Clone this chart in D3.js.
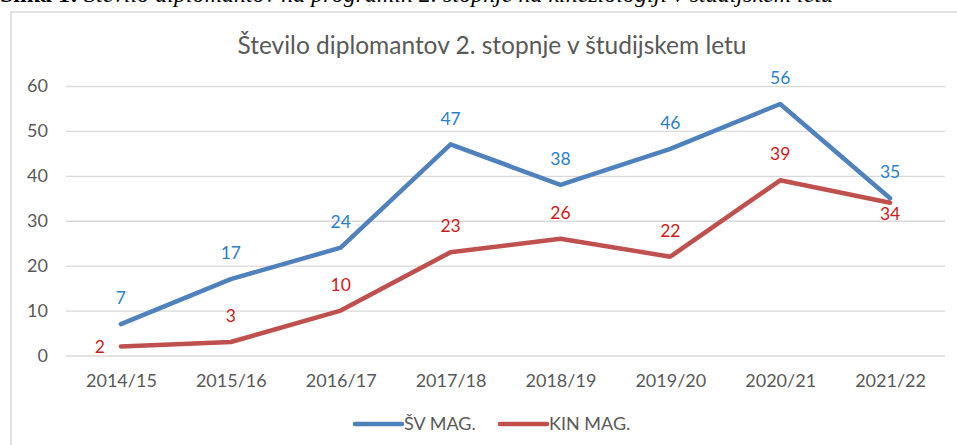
<!DOCTYPE html>
<html>
  <head>
    <meta charset="utf-8">
    <title>Število diplomantov 2. stopnje v študijskem letu</title>
    <style>
      body {
        margin: 0;
        background: #fff;
        overflow: hidden;
      }

      svg text {
        font-family: Lato, "Open Sans", sans-serif;
      }

      .grid line {
        stroke: #d9d9d9;
        stroke-width: 1.3px;
      }

      .axis text {
        fill: #595959;
        font-size: 18px;
      }
    </style>
  </head>
  <body>
    <svg width="957" height="445"></svg>
  </body>
  <script src="https://d3js.org/d3.v7.min.js"></script>
  <script>
    // data
    const years = ['2014/15', '2015/16', '2016/17', '2017/18', '2018/19', '2019/20', '2020/21', '2021/22'];
    const svMag = [7, 17, 24, 47, 38, 46, 56, 35];
    const kinMag = [2, 3, 10, 23, 26, 22, 39, 34];
    const seriesNames = ['ŠV MAG.', 'KIN MAG.'];
    const yTicks = [0, 10, 20, 30, 40, 50, 60];

    const svg = d3.select('svg');

    const x = d3.scalePoint()
      .domain(years)
      .range([66, 945])
      .padding(0.5);

    const y = d3.scaleLinear()
      .domain([0, 60])
      .range([355.5, 86]);

    // caption of the document, cut off at the top
    svg.append('text')
      .attr('x', 0)
      .attr('y', 1.5)
      .style('font-family', '"Liberation Serif", "DejaVu Serif", serif')
      .style('font-size', '24px')
      .style('fill', '#000')
      .html('<tspan font-weight="bold" font-style="normal">Slika 1:</tspan>'
        + '<tspan font-style="italic"> Število diplomantov na programih 2. stopnje na kineziologiji v študijskem letu</tspan>');

    // chart frame
    svg.append('rect')
      .attr('x', 11)
      .attr('y', 12)
      .attr('width', 980)
      .attr('height', 460)
      .style('fill', '#fff')
      .style('stroke', '#d9d9d9')
      .style('stroke-width', 1.5);

    svg.append('text')
      .attr('x', 492)
      .attr('y', 45)
      .attr('dy', '0.35em')
      .attr('text-anchor', 'middle')
      .style('font-size', '24.5px')
      .style('fill', '#595959')
      .text('Število diplomantov 2. stopnje v študijskem letu');

    const yAxis = svg.append('g')
      .attr('class', 'axis grid')
      .attr('transform', 'translate(66,0)')
      .call(d3.axisLeft(y).tickValues(yTicks).tickSize(-879).tickPadding(18));
    yAxis.select('.domain').remove();

    const xAxis = svg.append('g')
      .attr('class', 'axis')
      .attr('transform', 'translate(0,' + y(0) + ')')
      .call(d3.axisBottom(x).tickSize(0).tickPadding(19));
    xAxis.select('.domain').remove();

    const line = d3.line()
      .x((d, i) => x(years[i]))
      .y(d => y(d));

    const series = [
      {name: seriesNames[0], values: svMag, color: '#4f81bd', labelColor: '#2a7fc9'},
      {name: seriesNames[1], values: kinMag, color: '#c0504d', labelColor: '#d01818'}
    ];

    svg.append('g')
      .selectAll('path')
      .data(series)
      .join('path')
        .attr('d', d => line(d.values))
        .style('fill', 'none')
        .style('stroke', d => d.color)
        .style('stroke-width', 4.5)
        .style('stroke-linejoin', 'round')
        .style('stroke-linecap', 'round');

    // data labels
    function labelPos(s, i) {
      if (s.name === seriesNames[1] && i === 0) return 'left';
      if (s.name === seriesNames[1] && i === years.length - 1) return 'below';
      return 'above';
    }

    series.forEach(s => {
      svg.append('g')
        .selectAll('text')
        .data(s.values)
        .join('text')
          .attr('x', (d, i) => labelPos(s, i) === 'left' ? x(years[i]) - 16 : x(years[i]))
          .attr('y', (d, i) => {
            const p = labelPos(s, i);
            if (p === 'left') return y(d);
            if (p === 'below') return y(d) + 11;
            return y(d) - 26;
          })
          .attr('dy', '0.35em')
          .attr('text-anchor', (d, i) => labelPos(s, i) === 'left' ? 'end' : 'middle')
          .style('font-size', '17.5px')
          .style('fill', s.labelColor)
          .text(d => d);
    });

    // legend
    const legend = svg.append('g')
      .selectAll('g')
      .data(series)
      .join('g')
        .attr('transform', (d, i) => 'translate(' + [355, 500][i] + ',424)');

    legend.append('line')
      .attr('x1', 0)
      .attr('x2', 47)
      .style('stroke', d => d.color)
      .style('stroke-width', 4.5)
      .style('stroke-linecap', 'round');

    legend.append('text')
      .attr('x', 49)
      .attr('dy', '0.35em')
      .style('font-size', '18px')
      .style('fill', '#595959')
      .text(d => d.name);
  </script>
</html>
